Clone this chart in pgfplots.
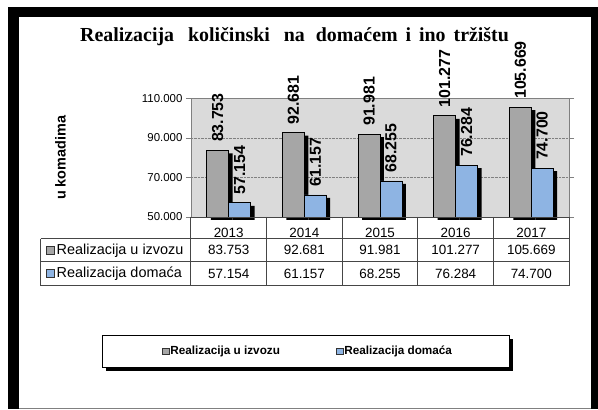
\documentclass[border=0pt]{standalone}
\usepackage{fontspec}
\setmainfont{Liberation Sans}
\newfontfamily\titlefont{Liberation Serif}
\usepackage{pgfplots}
\usepackage{pgfplotstable}
\pgfplotsset{compat=1.18}
\definecolor{bargray}{RGB}{166,166,166}
\definecolor{barblue}{RGB}{142,180,227}
\definecolor{plotbg}{RGB}{218,218,218}
\definecolor{axgray}{RGB}{128,128,128}
\definecolor{tabline}{RGB}{70,70,70}
\pgfplotstableread{
x izvoz domaca
0 83753 57154
1 92681 61157
2 91981 68255
3 101277 76284
4 105669 74700
}\data
\begin{document}
\pgfkeys{/pgf/number format/.cd,fixed,precision=0,1000 sep={.},assume math mode=true}
\begin{tikzpicture}[x=1pt,y=1pt]
\useasboundingbox (0pt,0pt) rectangle (598pt,411pt);
\fill[white] (0pt,0pt) rectangle (598pt,411pt);
\fill[black] (5pt,0pt) rectangle (598pt,404pt);
\fill[white] (16pt,1.5pt) rectangle (591pt,394pt);
\fill[axgray] (16pt,0pt) rectangle (591pt,1.5pt);
% legend box with shadow
\fill[black] (104pt,38pt) rectangle (513pt,70pt);
\filldraw[fill=white, draw=black, line width=0.8pt] (100pt,42pt) rectangle (509pt,74pt);
\begin{axis}[
  at={(189pt,193pt)}, anchor=south west,
  width=380pt, height=119pt, scale only axis,
  xmin=-0.5, xmax=4.5, ymin=50000, ymax=110000,
  xtick={0,1,2,3,4}, xticklabels={2013,2014,2015,2016,2017},
  xtick style={draw=none},
  xticklabel style={anchor=center, yshift=-11pt, font=\fontsize{13.5}{15}\selectfont},
  ytick={50000,70000,90000,110000},
  yticklabel style={font=\fontsize{11.5}{13}\selectfont, text=black},
  scaled y ticks=false,
  tick align=outside, major tick length=5pt,
  ytick style={axgray},
  axis line style={axgray},
  ymajorgrids, grid style={axgray, densely dotted},
  axis background/.style={fill=plotbg},
  clip mode=individual,
  ylabel={u komadima},
  ylabel style={at={(axis description cs:-0.345,0.5)}, anchor=center, font=\bfseries\fontsize{14.5}{16}\selectfont},
  title={Realizacija\hspace{0.45em} količinski\hspace{0.45em} na\hspace{0.3em} domaćem\hspace{0.15em} i\hspace{0.15em} ino\hspace{0.15em} tržištu},
  title style={at={(axis description cs:0.274,1.47)}, anchor=center, font=\titlefont\bfseries\fontsize{20}{23}\selectfont},
  legend style={at={(axis description cs:0.308,-1.134)}, anchor=center, draw=none, fill=none,
    legend columns=2, font=\bfseries\fontsize{11.8}{13}\selectfont,
    nodes={inner xsep=1pt},
    /tikz/every even column/.append style={column sep=55pt}},
]
\addplot[ybar, bar width=22pt, bar shift=-7pt, fill=black, draw=none, yshift=-3pt, forget plot]
  table[x=x,y=izvoz]{\data};
\addplot[ybar, bar width=22pt, bar shift=-11pt, fill=bargray, draw=black, line width=0.8pt,
  nodes near coords,
  every node near coord/.style={xshift=-11pt, rotate=90, anchor=west, inner xsep=8pt, inner ysep=0pt,
    font=\bfseries\fontsize{16}{17}\selectfont, text=black},
  legend image code/.code={\draw[fill=bargray,draw=black!80,line width=0.6pt] (0pt,-3.5pt) rectangle (7pt,3.5pt);}]
  table[x=x,y=izvoz]{\data};
\addlegendentry{Realizacija u izvozu}
\addplot[ybar, bar width=22pt, bar shift=15pt, fill=black, draw=none, yshift=-3pt, forget plot]
  table[x=x,y=domaca]{\data};
\addplot[ybar, bar width=22pt, bar shift=11pt, fill=barblue, draw=black, line width=0.8pt,
  nodes near coords,
  every node near coord/.style={xshift=11pt, rotate=90, anchor=west, inner xsep=8pt, inner ysep=0pt,
    font=\bfseries\fontsize{16}{17}\selectfont, text=black},
  legend image code/.code={\draw[fill=barblue,draw=black!80,line width=0.6pt] (0pt,-3.5pt) rectangle (7pt,3.5pt);}]
  table[x=x,y=domaca]{\data};
\addlegendentry{Realizacija domaća}
\end{axis}
% data table
\draw[line width=0.8pt, tabline]
  (38pt,171pt) -- (569pt,171pt)
  (38pt,148pt) -- (569pt,148pt)
  (38pt,124pt) -- (569pt,124pt)
  (38pt,171pt) -- (38pt,124pt)
  (189pt,193pt) -- (569pt,193pt);
\foreach \xx in {189,265,341,417,493,569} {\draw[line width=0.8pt, tabline] (\xx pt,193pt) -- (\xx pt,124pt);}
\filldraw[fill=bargray, draw=black!80, line width=0.6pt] (44pt,155.5pt) rectangle (52pt,163.5pt);
\filldraw[fill=barblue, draw=black!80, line width=0.6pt] (44pt,132pt) rectangle (52pt,140pt);
\node[anchor=west, inner sep=1pt, font=\fontsize{14.5}{16}\selectfont] at (53pt,159.5pt) {Realizacija u izvozu};
\node[anchor=west, inner sep=1pt, font=\fontsize{14.5}{16}\selectfont] at (53pt,136pt) {Realizacija domaća};
\begin{scope}[every node/.style={font=\fontsize{13.5}{15}\selectfont}]
\node at (227pt,159.5pt) {83.753};
\node at (303pt,159.5pt) {92.681};
\node at (379pt,159.5pt) {91.981};
\node at (455pt,159.5pt) {101.277};
\node at (531pt,159.5pt) {105.669};
\node at (227pt,136pt) {57.154};
\node at (303pt,136pt) {61.157};
\node at (379pt,136pt) {68.255};
\node at (455pt,136pt) {76.284};
\node at (531pt,136pt) {74.700};
\end{scope}
\end{tikzpicture}
\end{document}
